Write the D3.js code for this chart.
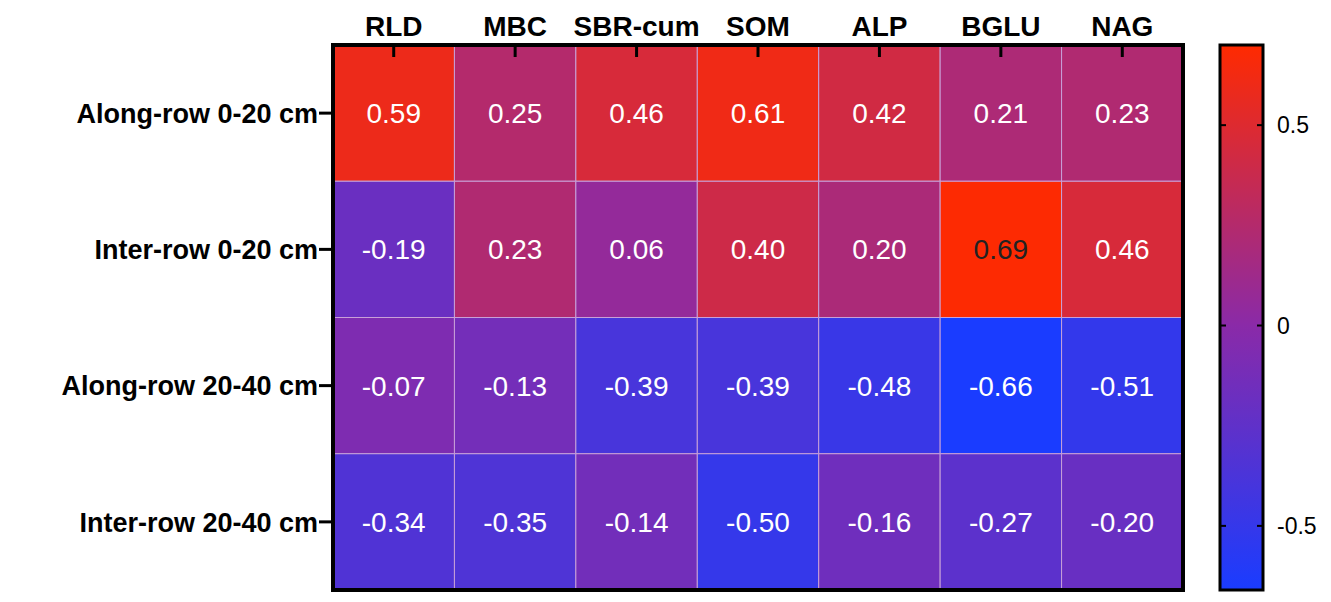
<!DOCTYPE html><html><head><meta charset="utf-8"><script src="https://cdn.jsdelivr.net/npm/d3@7"></script>
<style>body{margin:0;background:#fff}text{font-family:Arial,"Liberation Sans",sans-serif}</style></head><body><svg id="c" width="1331" height="602"></svg>
<script>
const columns=["RLD","MBC","SBR-cum","SOM","ALP","BGLU","NAG"];
const rows=["Along-row 0-20 cm","Inter-row 0-20 cm","Along-row 20-40 cm","Inter-row 20-40 cm"];
const values=[
[0.59,0.25,0.46,0.61,0.42,0.21,0.23],
[-0.19,0.23,0.06,0.40,0.20,0.69,0.46],
[-0.07,-0.13,-0.39,-0.39,-0.48,-0.66,-0.51],
[-0.34,-0.35,-0.14,-0.50,-0.16,-0.27,-0.20]];
const barTicks=[0.5,0,-0.5];
const svg=d3.select("#c");
const L=333,R=1183,T=45,B=590;
const x=d3.scaleBand().domain(columns).range([L,R]);
const y=d3.scaleBand().domain(rows).range([T,B]);
const color=d3.scaleLinear().domain([-0.66,0,0.7]).range(["#1a3cff","#8a2aa8","#ff2a00"]).interpolate(d3.interpolateRgb);
const cells=[];values.forEach((r,i)=>r.forEach((v,j)=>cells.push({r:rows[i],c:columns[j],v})));
svg.selectAll("rect.cell").data(cells).join("rect").attr("x",d=>x(d.c)).attr("y",d=>y(d.r)).attr("width",x.bandwidth()).attr("height",y.bandwidth()).attr("fill",d=>color(d.v)).attr("stroke","#c8a0d8").attr("stroke-width",1);
svg.selectAll("text.v").data(cells).join("text").attr("x",d=>x(d.c)+x.bandwidth()/2).attr("y",d=>y(d.r)+y.bandwidth()/2).attr("dy","0.36em").attr("text-anchor","middle").attr("font-size",28).attr("fill",d=>d.v>0.65?"#222":"#fff").text(d=>d.v.toFixed(2));
svg.append("rect").attr("x",L).attr("y",T).attr("width",R-L).attr("height",B-T).attr("fill","none").attr("stroke","#000").attr("stroke-width",4);
columns.forEach(c=>{const cx=x(c)+x.bandwidth()/2;svg.append("line").attr("x1",cx).attr("x2",cx).attr("y1",T).attr("y2",T+12).attr("stroke","#000").attr("stroke-width",3);
svg.append("text").attr("x",cx).attr("y",36).attr("text-anchor","middle").attr("font-size",28).attr("font-weight","bold").text(c);});
rows.forEach(r=>{const cy=y(r)+y.bandwidth()/2;svg.append("line").attr("x1",L-14).attr("x2",L).attr("y1",cy).attr("y2",cy).attr("stroke","#000").attr("stroke-width",3);
svg.append("text").attr("x",L-15).attr("y",cy).attr("dy","0.36em").attr("text-anchor","end").attr("font-size",27).attr("font-weight","bold").text(r);});
const cbL=1220,cbR=1263;
const cy=d3.scaleLinear().domain([-0.66,0.7]).range([B,T]);
const defs=svg.append("defs");const g=defs.append("linearGradient").attr("id","g").attr("x1",0).attr("x2",0).attr("y1",1).attr("y2",0);
[-0.66,0,0.7].forEach(v=>g.append("stop").attr("offset",(v+0.66)/1.36).attr("stop-color",color(v)));
svg.append("rect").attr("x",cbL).attr("y",T).attr("width",cbR-cbL).attr("height",B-T).attr("fill","url(#g)").attr("stroke","#000").attr("stroke-width",3);
barTicks.forEach(t=>{const yy=cy(t);
svg.append("line").attr("x1",cbL).attr("x2",cbL+6).attr("y1",yy).attr("y2",yy).attr("stroke","#000").attr("stroke-width",2);
svg.append("line").attr("x1",cbR-6).attr("x2",cbR).attr("y1",yy).attr("y2",yy).attr("stroke","#000").attr("stroke-width",2);
svg.append("text").attr("x",1277).attr("y",yy).attr("dy","0.36em").attr("font-size",23).text(t===0?"0":String(t));});
</script></body></html>
